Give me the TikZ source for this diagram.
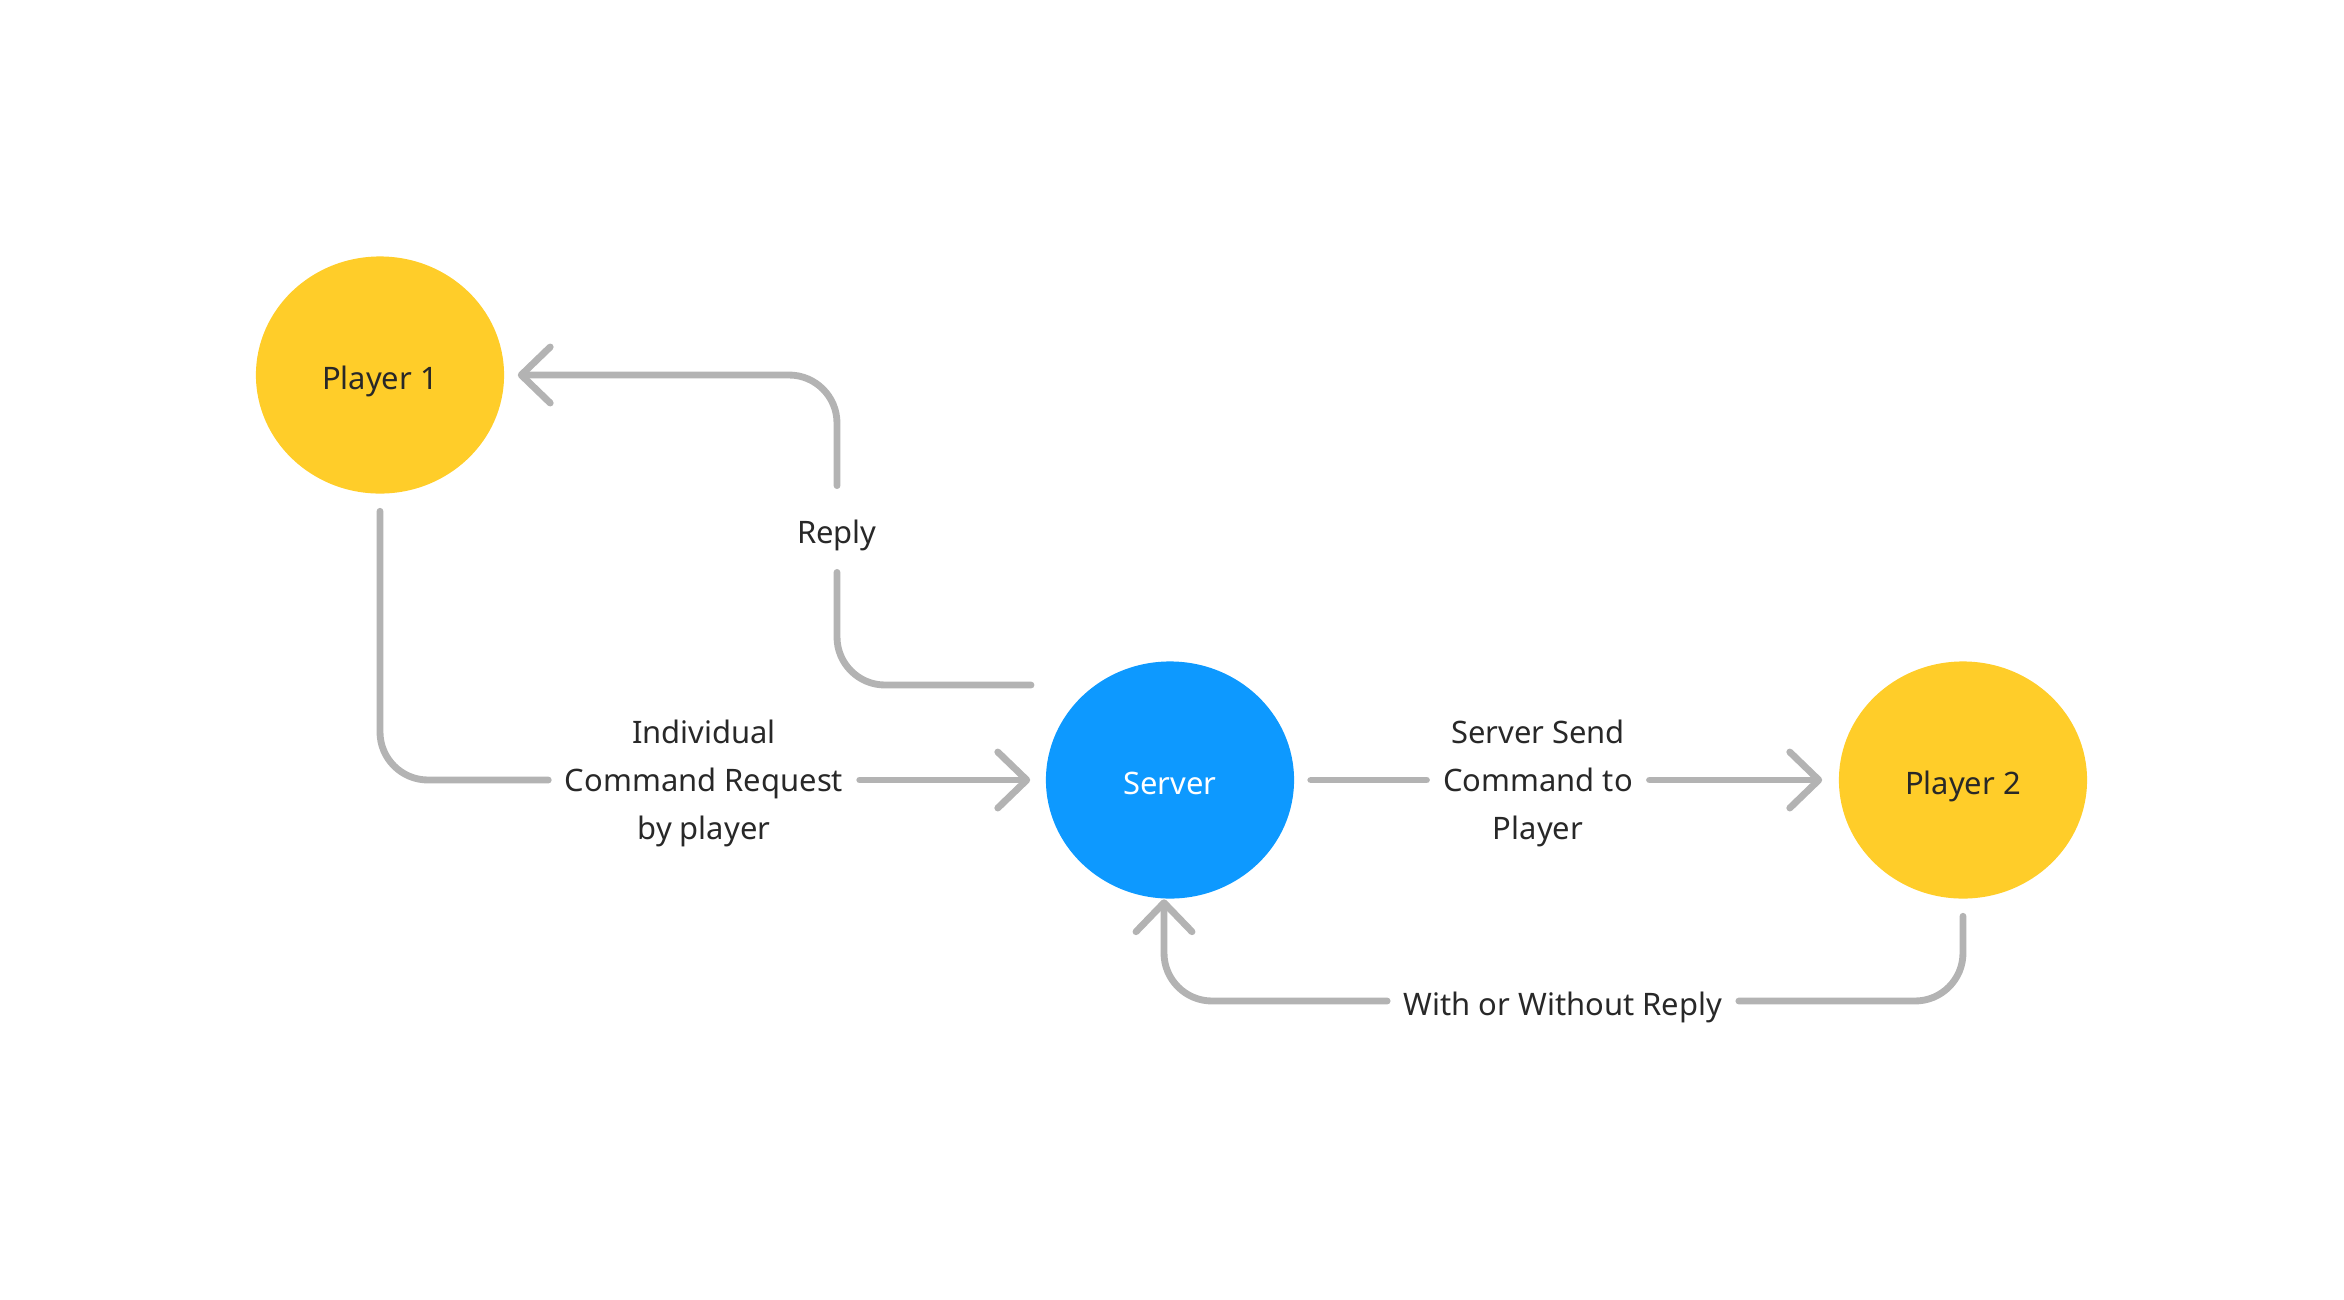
\documentclass[tikz,border=0pt]{standalone}
\usepackage{xcolor}
\usepackage{fontspec}
\setmainfont{Noto Sans}
\usetikzlibrary{shapes.geometric,arrows.meta,positioning}

\definecolor{playeryellow}{HTML}{FFCD29}
\definecolor{serverblue}{HTML}{0D99FF}
\definecolor{linegray}{HTML}{B3B3B3}
\definecolor{textdark}{HTML}{282828}

\tikzset{
  player/.style={ellipse, fill=playeryellow, minimum width=2.48cm, minimum height=2.37cm,
    inner sep=0pt, text=textdark, text height=1.05em, text depth=0.24em},
  server/.style={ellipse, fill=serverblue, minimum width=2.48cm, minimum height=2.37cm,
    inner sep=0pt, text=white, text height=1.05em, text depth=0.24em},
  lbl/.style={align=center, text=textdark, inner xsep=0.16cm, inner ysep=0.2cm,
    text depth=0pt},
  oneline/.style={text height=1.05em, text depth=0.24em},
  conn/.style={draw=linegray, line width=1.95pt, line cap=round, line join=round,
    rounded corners=0.48cm},
  >={Straight Barb[length=0.29cm, width=0.56cm, round]}
}

\begin{document}
\begin{tikzpicture}[x=0.01cm, y=-0.01cm, font=\fontsize{8.8pt}{13.6pt}\selectfont]
  \useasboundingbox (0,0) rectangle (2344,1299);

  % Draw nodes
  \node[player] (p1) at (380,375) {Player 1};
  \node[server] (srv) at (1170,780) {Server};
  \node[player] (p2) at (1963,780) {Player 2};

  % Draw labels
  \node[lbl] (req) at (704,780) {Individual\\Command Request\\by player};
  \node[lbl,oneline] (reply) at (837,529) {Reply};
  \node[lbl] (send) at (1538,780) {Server Send\\Command to\\Player};
  \node[lbl,oneline] (back) at (1563,1001) {With or Without Reply};
  \coordinate (rs) at (1031,685);

  % Draw connectors
  \draw[conn] ([yshift=-0.17cm]p1.south) |- (req.west);
  \draw[conn,->,shorten >=0.15cm] (req.east) -- (srv.west);
  \draw[conn] (rs) -| (reply.south);
  \draw[conn,->,shorten >=0.13cm] (reply.north) |- (p1.east);
  \draw[conn] ([xshift=0.16cm]srv.east) -- (send.west);
  \draw[conn,->,shorten >=0.16cm] (send.east) -- (p2.west);
  \draw[conn] ([yshift=-0.17cm]p2.south) |- (back.east);
  \draw[conn,->] (back.west) -| ([xshift=-0.06cm]srv.south);
\end{tikzpicture}
\end{document}
